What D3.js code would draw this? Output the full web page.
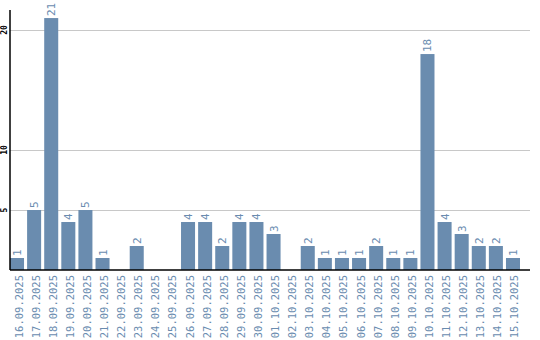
<!DOCTYPE html>
<meta charset="utf-8">
<script src="https://cdn.jsdelivr.net/npm/d3@7"></script>
<style>
  body { margin: 0; background: #fff; }
</style>
<div id="chart"></div>
<script>
// данные
var dates = ["16.09.2025","17.09.2025","18.09.2025","19.09.2025","20.09.2025","21.09.2025","22.09.2025","23.09.2025","24.09.2025","25.09.2025",
             "26.09.2025","27.09.2025","28.09.2025","29.09.2025","30.09.2025","01.10.2025","02.10.2025","03.10.2025","04.10.2025","05.10.2025",
             "06.10.2025","07.10.2025","08.10.2025","09.10.2025","10.10.2025","11.10.2025","12.10.2025","13.10.2025","14.10.2025","15.10.2025"];
var counts = [1,5,21,4,5,1,0,2,0,0, 4,4,2,4,4,3,0,2,1,1, 1,2,1,1,18,4,3,2,2,1];
var yTicks = [5, 10, 20];

var W = 540, H = 340;
var mLeft = 10, mTop = 10, mBottom = 270, mRight = 530;
var barColor = "#6a8caf";

var svg = d3.select("#chart").append("svg")
    .attr("width", W).attr("height", H);

var x = d3.scaleBand()
    .domain(dates)
    .range([mLeft, mLeft + 17 * dates.length])
    .paddingInner(0.18)
    .paddingOuter(0);

var y = d3.scaleLinear()
    .domain([0, d3.max(counts) * 1.032])
    .range([mBottom, mTop]);

// сетка
svg.append("g").selectAll("line")
  .data(yTicks)
  .join("line")
    .attr("x1", mLeft).attr("x2", mRight)
    .attr("y1", function(d) { return Math.round(y(d)) + 0.5; })
    .attr("y2", function(d) { return Math.round(y(d)) + 0.5; })
    .attr("stroke", "#c8c8c8");

// подписи оси Y
svg.append("g").selectAll("text")
  .data(yTicks)
  .join("text")
    .attr("transform", function(d) { return "translate(7," + y(d) + ") rotate(-90)"; })
    .attr("text-anchor", "middle")
    .style("font-family", "DejaVu Sans Mono")
    .style("font-size", "8px")
    .style("font-weight", "bold")
    .text(function(d) { return d; });

// столбцы
svg.append("g").selectAll("rect")
  .data(counts)
  .join("rect")
    .attr("x", function(d, i) { return x(dates[i]); })
    .attr("y", function(d) { return y(d); })
    .attr("width", x.bandwidth())
    .attr("height", function(d) { return mBottom - y(d); })
    .attr("fill", barColor);

// значения над столбцами
var labelled = counts.map(function(v, i) { return {v: v, d: dates[i]}; })
    .filter(function(o) { return o.v > 0; });

svg.append("g").selectAll("text")
  .data(labelled)
  .join("text")
    .attr("transform", function(o) {
        return "translate(" + (x(o.d) + x.bandwidth() / 2 + 4) + "," + (y(o.v) - 2) + ") rotate(-90)";
    })
    .attr("fill", barColor)
    .style("font-family", "DejaVu Sans Mono")
    .style("font-size", "11px")
    .text(function(o) { return o.v; });

// оси
svg.append("line")
    .attr("x1", mLeft).attr("x2", mLeft)
    .attr("y1", mTop).attr("y2", mBottom)
    .attr("stroke", "#000").attr("stroke-width", 1.5);
svg.append("line")
    .attr("x1", mLeft).attr("x2", mRight)
    .attr("y1", mBottom).attr("y2", mBottom)
    .attr("stroke", "#000").attr("stroke-width", 1.5);

// даты
svg.append("g").selectAll("text")
  .data(dates)
  .join("text")
    .attr("transform", function(d) {
        return "translate(" + (x(d) + x.bandwidth() / 2 + 5.5) + "," + (mBottom + 5) + ") rotate(-90)";
    })
    .attr("text-anchor", "end")
    .attr("fill", barColor)
    .style("font-family", "DejaVu Sans Mono")
    .style("font-size", "10.5px")
    .text(function(d) { return d; });
</script>
